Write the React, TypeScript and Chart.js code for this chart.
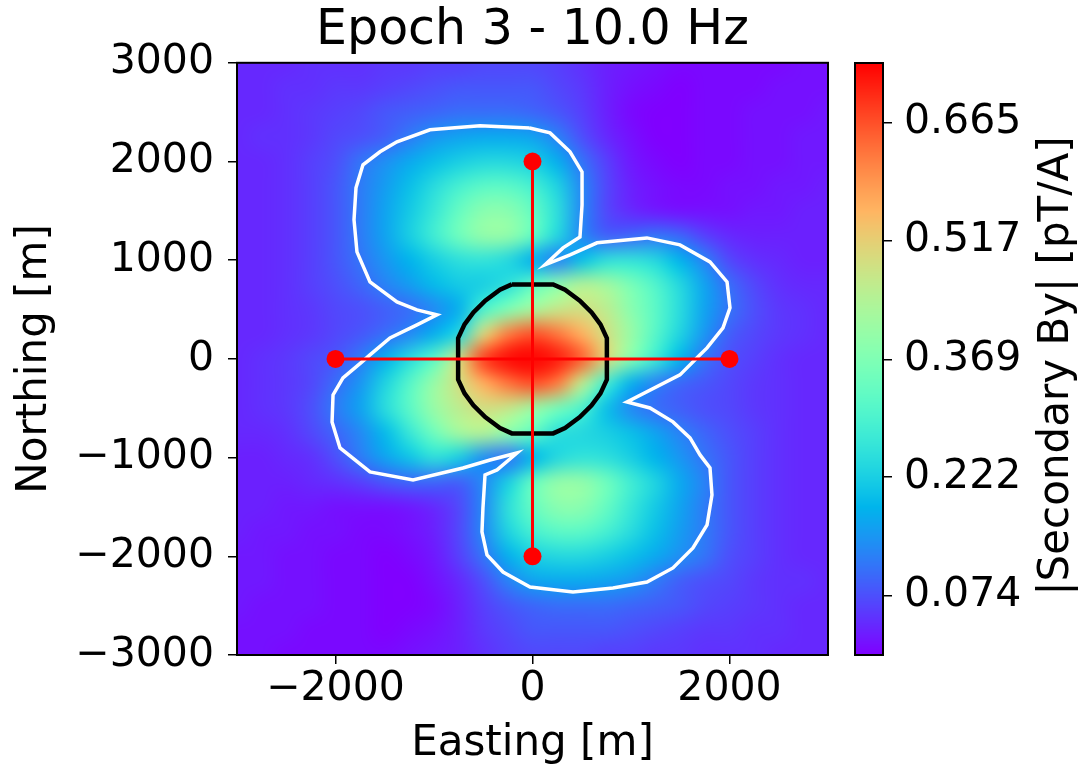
import React, { useEffect, useRef } from 'react';
import { Chart, registerables } from 'chart.js';

Chart.register(...registerables);

// ---------- text ----------
const titleText = 'Epoch 3 - 10.0 Hz';
const xAxisLabel = 'Easting [m]';
const yAxisLabel = 'Northing [m]';
const colorbarLabel = '|Secondary By| [pT/A]';

// ---------- axes ----------
const xRange = [-3000, 3000];
const yRange = [-3000, 3000];
const xTickValues = [-2000, 0, 2000];
const yTickValues = [-3000, -2000, -1000, 0, 1000, 2000, 3000];

// ---------- colour scale (pT/A) ----------
const colorMin = 0;
const colorMax = 0.739;
const colorbarTicks = [0.074, 0.222, 0.369, 0.517, 0.665];

// ---------- field grid (cell centres, metres) ----------
const eastingGrid = [
  -3000, -2750, -2500, -2250, -2000, -1750, -1500, -1250, -1000, -750, -500, -250, 0,
  250, 500, 750, 1000, 1250, 1500, 1750, 2000, 2250, 2500, 2750, 3000,
];
const northingGrid = [
  3000, 2750, 2500, 2250, 2000, 1750, 1500, 1250, 1000, 750, 500, 250, 0,
  -250, -500, -750, -1000, -1250, -1500, -1750, -2000, -2250, -2500, -2750, -3000,
];
// |Secondary By|, in percent of the colour-scale maximum (0.739 pT/A).
// One row per northing (top to bottom), one column per easting (left to right).
const fieldPct = [
  [5, 5, 5, 6, 6, 6, 7, 7, 8, 8, 9, 9, 9, 8, 6, 4, 3, 2, 1, 1, 1, 1, 1, 2, 2],
  [5, 5, 6, 6, 7, 7, 8, 9, 10, 11, 11, 11, 11, 9, 7, 4, 2, 1, 0, 1, 1, 1, 2, 2, 2],
  [5, 5, 6, 7, 8, 9, 11, 12, 13, 14, 14, 14, 13, 11, 8, 4, 1, 0, 0, 1, 1, 2, 2, 2, 3],
  [5, 6, 6, 7, 9, 10, 12, 16, 20, 22, 23, 23, 22, 17, 10, 5, 2, 0, 0, 1, 1, 2, 2, 3, 3],
  [5, 5, 6, 8, 10, 15, 19, 23, 27, 30, 32, 32, 30, 24, 15, 8, 3, 1, 0, 1, 1, 2, 2, 3, 3],
  [5, 5, 6, 8, 11, 16, 21, 27, 33, 39, 43, 43, 39, 31, 18, 9, 4, 2, 1, 1, 2, 2, 3, 3, 4],
  [5, 5, 6, 8, 11, 16, 22, 29, 36, 45, 52, 52, 45, 34, 18, 9, 5, 3, 2, 2, 2, 3, 3, 4, 4],
  [5, 5, 6, 8, 11, 16, 22, 30, 38, 47, 54, 54, 45, 32, 18, 12, 13, 15, 13, 8, 5, 4, 4, 4, 4],
  [5, 5, 6, 8, 11, 15, 20, 25, 30, 34, 35, 32, 24, 17, 27, 34, 35, 32, 25, 17, 9, 6, 5, 4, 4],
  [5, 5, 6, 8, 10, 13, 17, 21, 26, 29, 30, 34, 44, 52, 60, 57, 49, 41, 32, 22, 14, 9, 6, 5, 5],
  [5, 5, 6, 7, 9, 10, 12, 14, 18, 24, 40, 50, 58, 64, 66, 62, 52, 43, 33, 22, 15, 10, 7, 6, 5],
  [5, 5, 6, 7, 9, 11, 14, 18, 24, 32, 68, 84, 90, 85, 76, 66, 55, 42, 31, 20, 12, 9, 7, 6, 5],
  [5, 6, 7, 9, 11, 16, 24, 33, 43, 66, 92, 99, 100, 97, 88, 68, 51, 37, 25, 15, 10, 8, 6, 5, 5],
  [5, 6, 7, 9, 14, 20, 31, 42, 55, 66, 76, 85, 90, 84, 62, 38, 24, 17, 13, 11, 9, 7, 6, 5, 5],
  [5, 6, 7, 10, 16, 22, 33, 43, 55, 62, 66, 64, 56, 48, 40, 27, 18, 14, 12, 10, 9, 7, 6, 5, 5],
  [5, 5, 6, 9, 13, 18, 26, 36, 47, 57, 60, 52, 44, 34, 32, 30, 27, 22, 17, 13, 10, 8, 6, 5, 5],
  [4, 4, 5, 6, 10, 16, 22, 28, 34, 30, 19, 15, 25, 32, 35, 34, 30, 25, 20, 15, 11, 8, 6, 5, 5],
  [4, 4, 4, 5, 6, 8, 11, 13, 13, 12, 18, 30, 45, 54, 54, 47, 38, 31, 23, 17, 11, 8, 6, 5, 5],
  [4, 4, 3, 3, 2, 2, 2, 3, 5, 9, 18, 34, 45, 52, 52, 45, 36, 29, 22, 16, 11, 8, 6, 5, 5],
  [4, 3, 3, 2, 2, 1, 1, 2, 4, 9, 18, 31, 39, 43, 43, 39, 33, 27, 21, 16, 11, 8, 6, 5, 5],
  [3, 3, 2, 2, 1, 1, 0, 1, 3, 8, 15, 24, 30, 32, 32, 30, 27, 23, 19, 15, 10, 8, 6, 5, 5],
  [3, 3, 2, 2, 1, 1, 0, 0, 2, 5, 10, 17, 22, 23, 23, 22, 20, 16, 12, 10, 9, 7, 6, 6, 5],
  [3, 2, 2, 2, 1, 1, 0, 0, 1, 4, 8, 11, 13, 14, 14, 14, 13, 12, 11, 9, 8, 7, 6, 5, 5],
  [2, 2, 2, 1, 1, 1, 0, 1, 2, 4, 7, 9, 11, 11, 11, 11, 10, 9, 8, 7, 7, 6, 6, 5, 5],
  [2, 2, 1, 1, 1, 1, 1, 2, 3, 4, 6, 8, 9, 9, 9, 8, 8, 7, 7, 6, 6, 6, 5, 5, 5],
];

// ---------- white contour (easting, northing) ----------
const whiteContour = [
  [-30, 2340], [178, 2290], [381, 2098], [503, 1895], [503, 1561], [482, 1236], [310, 1125], [127, 953],
  [381, 1054], [655, 1176], [1162, 1226], [1497, 1155], [1802, 983], [1975, 780], [2005, 517], [1934, 314],
  [1772, 111], [1701, 41], [1497, -162], [959, -436], [1193, -497], [1426, -638], [1599, -801], [1701, -973],
  [1802, -1105], [1822, -1378], [1772, -1682], [1629, -1916], [1426, -2118], [1162, -2260], [817, -2321],
  [411, -2361], [-25, -2311], [-299, -2159], [-462, -1986], [-513, -1753], [-503, -1510], [-482, -1176],
  [-360, -1125], [-157, -953], [-431, -1024], [-706, -1105], [-1213, -1226], [-1650, -1145], [-1954, -902],
  [-2035, -639], [-2025, -365], [-1924, -193], [-1731, -30], [-1650, 41], [-1447, 213], [-1173, 345],
  [-970, 446], [-1173, 497], [-1376, 578], [-1650, 780], [-1782, 1084], [-1812, 1409], [-1792, 1733],
  [-1721, 1966], [-1548, 2098], [-1376, 2199], [-1041, 2321], [-533, 2361], [-30, 2340],
];

// ---------- black contour (easting, northing) ----------
const blackContour = [
  [-210, 755], [210, 755], [330, 700], [480, 590], [600, 470], [690, 350], [755, 210], [755, -210],
  [690, -350], [600, -470], [480, -590], [330, -700], [210, -755], [-210, -755], [-330, -700],
  [-480, -590], [-600, -470], [-690, -350], [-755, -210], [-755, 210], [-690, 350], [-600, 470],
  [-480, 590], [-330, 700], [-210, 755],
];

// ---------- red survey lines ----------
const lineEastWest = [[-2000, 0], [2000, 0]];
const lineNorthSouth = [[0, 2000], [0, -2000]];

// ---------- helpers ----------
const FONT = 'DejaVu Sans';

function rainbow(f: number): [number, number, number] {
  const t = Math.max(0, Math.min(1, f));
  const r = Math.min(1, Math.abs(2 * t - 0.5));
  const g = Math.max(0, Math.sin(Math.PI * t));
  const b = Math.max(0, Math.cos((Math.PI * t) / 2));
  return [Math.round(r * 255), Math.round(g * 255), Math.round(b * 255)];
}

function fmtTick(v: number): string {
  return v < 0 ? '\u2212' + Math.abs(v) : String(v);
}

function toPoints(arr: number[][]) {
  return arr.map(([x, y]) => ({ x, y }));
}

function buildFieldImage(): HTMLCanvasElement {
  const rows = fieldPct.length;
  const cols = fieldPct[0].length;
  const c = document.createElement('canvas');
  c.width = cols;
  c.height = rows;
  const g = c.getContext('2d')!;
  const img = g.createImageData(cols, rows);
  for (let j = 0; j < rows; j++) {
    for (let i = 0; i < cols; i++) {
      const [r, gg, b] = rainbow(fieldPct[j][i] / 100);
      const k = (j * cols + i) * 4;
      img.data[k] = r;
      img.data[k + 1] = gg;
      img.data[k + 2] = b;
      img.data[k + 3] = 255;
    }
  }
  g.putImageData(img, 0, 0);
  return c;
}

export default function App() {
  const mainRef = useRef<HTMLCanvasElement>(null);
  const cbRef = useRef<HTMLCanvasElement>(null);

  useEffect(() => {
    if (!mainRef.current || !cbRef.current) return;
    const fieldImg = buildFieldImage();

    const heatmapPlugin = {
      id: 'heatmap',
      beforeDatasetsDraw(chart: any) {
        const { ctx, chartArea: a, scales } = chart;
        const xs = scales.x;
        const ys = scales.y;
        const dx = eastingGrid[1] - eastingGrid[0];
        const dy = northingGrid[0] - northingGrid[1];
        const left = xs.getPixelForValue(eastingGrid[0] - dx / 2);
        const right = xs.getPixelForValue(eastingGrid[eastingGrid.length - 1] + dx / 2);
        const top = ys.getPixelForValue(northingGrid[0] + dy / 2);
        const bottom = ys.getPixelForValue(northingGrid[northingGrid.length - 1] - dy / 2);
        ctx.save();
        ctx.beginPath();
        ctx.rect(a.left, a.top, a.right - a.left, a.bottom - a.top);
        ctx.clip();
        ctx.imageSmoothingEnabled = true;
        ctx.imageSmoothingQuality = 'high';
        ctx.drawImage(fieldImg, left, top, right - left, bottom - top);
        ctx.restore();
      },
    };

    const framePlugin = {
      id: 'frame',
      afterDatasetsDraw(chart: any) {
        const { ctx, chartArea: a } = chart;
        ctx.save();
        ctx.strokeStyle = '#000';
        ctx.lineWidth = 2;
        ctx.strokeRect(a.left, a.top, a.right - a.left, a.bottom - a.top);
        ctx.restore();
      },
    };

    const tickFont = { family: FONT, size: 41 };
    const labelFont = { family: FONT, size: 42 };

    const redLine = (pts: number[][]) => ({
      data: toPoints(pts),
      showLine: true,
      borderColor: '#ff0000',
      borderWidth: 3,
      pointRadius: 9,
      pointHoverRadius: 9,
      pointBackgroundColor: '#ff0000',
      pointBorderWidth: 0,
    });

    const main = new Chart(mainRef.current, {
      type: 'scatter',
      data: {
        datasets: [
          redLine(lineEastWest),
          redLine(lineNorthSouth),
          {
            data: toPoints(blackContour),
            showLine: true,
            borderColor: '#000000',
            borderWidth: 4.5,
            pointRadius: 0,
            tension: 0,
          },
          {
            data: toPoints(whiteContour),
            showLine: true,
            borderColor: '#ffffff',
            borderWidth: 3.5,
            pointRadius: 0,
            tension: 0,
          },
        ] as any,
      },
      options: {
        responsive: false,
        animation: false,
        events: [],
        layout: { padding: { left: 0, right: 17, top: 0, bottom: 0 } },
        plugins: {
          legend: { display: false },
          tooltip: { enabled: false },
          title: {
            display: true,
            text: titleText,
            fullSize: false,
            color: '#000',
            font: { family: FONT, size: 49, weight: 'normal' as any },
            padding: { top: 2, bottom: 2 },
          },
        },
        scales: {
          x: {
            type: 'linear',
            min: xRange[0],
            max: xRange[1],
            afterBuildTicks: (s: any) => {
              s.ticks = xTickValues.map((v) => ({ value: v }));
            },
            afterFit: (s: any) => {
              s.height = 118;
            },
            ticks: {
              color: '#000',
              font: tickFont,
              padding: 1,
              maxRotation: 0,
              autoSkip: false,
              callback: (v: any) => fmtTick(Number(v)),
            },
            grid: { drawOnChartArea: false, drawTicks: true, tickLength: 9, color: '#000', lineWidth: 1.5 },
            border: { display: false },
            title: {
              display: true,
              text: xAxisLabel,
              color: '#000',
              font: labelFont,
              padding: { top: 0, bottom: 4 },
            },
          },
          y: {
            type: 'linear',
            min: yRange[0],
            max: yRange[1],
            afterBuildTicks: (s: any) => {
              s.ticks = yTickValues.map((v) => ({ value: v }));
            },
            afterFit: (s: any) => {
              s.width = 237;
            },
            ticks: {
              color: '#000',
              font: tickFont,
              padding: 14,
              autoSkip: false,
              callback: (v: any) => fmtTick(Number(v)),
            },
            grid: { drawOnChartArea: false, drawTicks: true, tickLength: 9, color: '#000', lineWidth: 1.5 },
            border: { display: false },
            title: {
              display: true,
              text: yAxisLabel,
              color: '#000',
              font: labelFont,
              padding: { top: 10, bottom: 0 },
            },
          },
        },
      },
      plugins: [heatmapPlugin, framePlugin],
    } as any);

    const colorbarPlugin = {
      id: 'colorbar',
      beforeDatasetsDraw(chart: any) {
        const { ctx, chartArea: a, scales } = chart;
        const ys = scales.y;
        ctx.save();
        for (let p = Math.floor(a.top); p < Math.ceil(a.bottom); p++) {
          const v = ys.getValueForPixel(p + 0.5);
          const [r, g, b] = rainbow((v - colorMin) / (colorMax - colorMin));
          ctx.fillStyle = `rgb(${r},${g},${b})`;
          ctx.fillRect(a.left, p, a.right - a.left, 1.2);
        }
        ctx.strokeStyle = '#000';
        ctx.lineWidth = 2;
        ctx.strokeRect(a.left, a.top, a.right - a.left, a.bottom - a.top);
        ctx.restore();
      },
      afterDraw(chart: any) {
        const { ctx, chartArea: a } = chart;
        ctx.save();
        ctx.translate(a.right + 174, (a.top + a.bottom) / 2 + 7);
        ctx.rotate(-Math.PI / 2);
        ctx.textAlign = 'center';
        ctx.textBaseline = 'middle';
        ctx.fillStyle = '#000';
        ctx.font = `42px "${FONT}"`;
        ctx.fillText(colorbarLabel, 0, 0);
        ctx.restore();
      },
    };

    const cb = new Chart(cbRef.current, {
      type: 'scatter',
      data: { datasets: [] },
      options: {
        responsive: false,
        animation: false,
        events: [],
        layout: { padding: { left: 15, right: 0, top: 63, bottom: 118 } },
        plugins: { legend: { display: false }, tooltip: { enabled: false }, title: { display: false } },
        scales: {
          x: { type: 'linear', display: false, min: 0, max: 1 },
          y: {
            type: 'linear',
            position: 'right',
            min: colorMin,
            max: colorMax,
            afterBuildTicks: (s: any) => {
              s.ticks = colorbarTicks.map((v) => ({ value: v }));
            },
            afterFit: (s: any) => {
              s.width = 203;
            },
            ticks: {
              color: '#000',
              font: tickFont,
              padding: 12,
              autoSkip: false,
              callback: (v: any) => Number(v).toFixed(3),
            },
            grid: { drawOnChartArea: false, drawTicks: true, tickLength: 9, color: '#000', lineWidth: 1.5 },
            border: { display: false },
          },
        },
      },
      plugins: [colorbarPlugin],
    } as any);

    return () => {
      main.destroy();
      cb.destroy();
    };
  }, []);

  return (
    <div style={{ position: 'absolute', left: 0, top: 0, width: 1086, height: 773, background: '#fff' }}>
      <canvas ref={mainRef} width={845} height={773} style={{ position: 'absolute', left: 0, top: 0 }} />
      <canvas ref={cbRef} width={246} height={773} style={{ position: 'absolute', left: 840, top: 0 }} />
    </div>
  );
}
